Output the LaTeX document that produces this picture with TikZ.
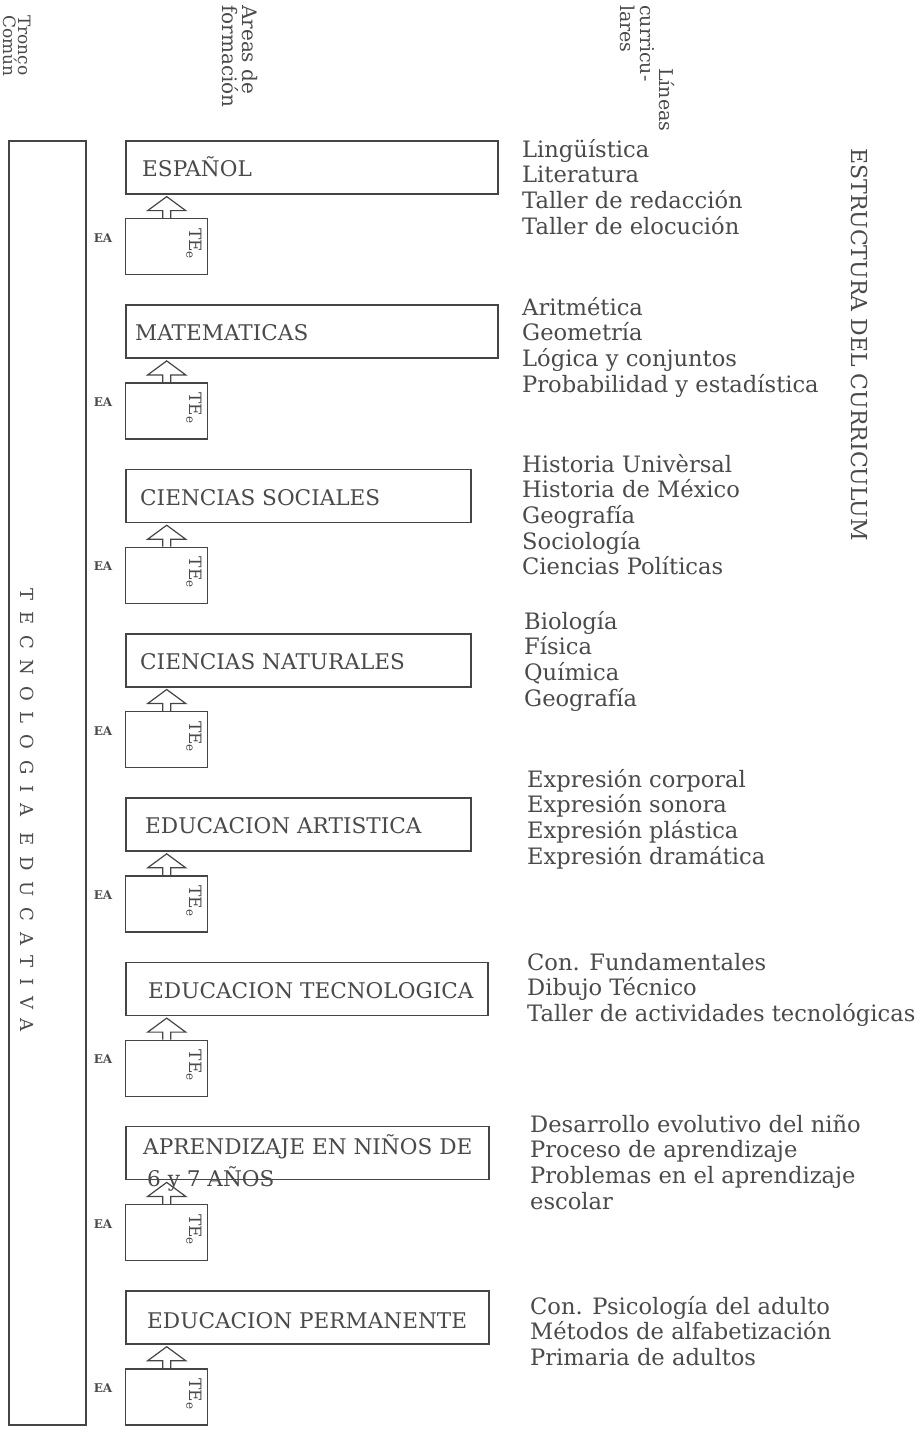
\documentclass[tikz,border=0pt]{standalone}
\usepackage{fontspec}
\setmainfont{DejaVu Serif}
\usetikzlibrary{calc}
\definecolor{ink}{HTML}{454545}
\definecolor{txt}{HTML}{4A4A4A}
\tikzset{
 areabox/.style={draw=ink, line width=1.6pt, minimum height=53pt, inner sep=0pt, anchor=north west},
 tebox/.style={draw=ink, line width=1.4pt, minimum width=82pt, minimum height=56pt, inner sep=0pt, anchor=north west},
 arealabel/.style={text=txt, font=\fontsize{21.6}{26}\selectfont, anchor=base west, inner sep=0pt},
 listline/.style={text=txt, font=\fontsize{22.6}{26}\selectfont, anchor=base west, inner sep=0pt},
 telabel/.style={text=txt, font=\fontsize{17}{20}\selectfont, rotate=-90, anchor=base west, inner sep=0pt},
 eamark/.style={text=txt, font=\bfseries\fontsize{12}{12}\selectfont, inner sep=0pt},
 hollowup/.style={draw=ink, line width=1.2pt, line join=miter},
 header/.style={text=txt, rotate=-90, anchor=north west, align=left, inner sep=0pt},
}
\newcommand\teArrow[2]{\draw[hollowup] let \p1=(#1.north), \p2=(#2.south) in (\x1-4pt,\y1) -- (\x1-4pt,\y2-16pt) -- (\x1-19pt,\y2-16pt) -- (\x1,\y2-2pt) -- (\x1+19pt,\y2-16pt) -- (\x1+4pt,\y2-16pt) -- (\x1+4pt,\y1);}
\begin{document}
\begin{tikzpicture}[x=1pt,y=-1pt]
\useasboundingbox (0,0) rectangle (919,1436);
\fill[white] (0,0) rectangle (919,1436);

% headers
\node[header, font=\fontsize{17}{15}\selectfont] (hdr1) at (31,15) {Tronco\\Común};
\node[header, font=\fontsize{20}{20}\selectfont] (hdr2) at (258,5) {Areas de\\formación};
\node[header, font=\fontsize{19}{20}\selectfont] (hdr3) at (675,68) {Líneas};
\node[header, font=\fontsize{19}{20}\selectfont] (hdr4) at (655,5) {curricu-\\lares};
\node[header, font=\fontsize{22}{24}\selectfont] (hdr5) at (868,148) {ESTRUCTURA DEL CURRICULUM};

% tronco comun
\node[draw=ink, line width=2pt, anchor=north west, minimum width=77pt, minimum height=1284pt, inner sep=0pt] (tronco) at (8,140) {};
\node[text=txt, rotate=-90, inner sep=0pt, font=\fontsize{18}{20}\selectfont\addfontfeature{LetterSpace=60}] (tronlabel) at (27,810) {TECNOLOGIA EDUCATIVA};

% areas
\node[areabox, minimum width=372pt] (a1) at (125,140) {};
\node[areabox, minimum width=372pt] (a2) at (125,304.3) {};
\node[areabox, minimum width=345pt] (a3) at (125,468.6) {};
\node[areabox, minimum width=345pt] (a4) at (125,632.9) {};
\node[areabox, minimum width=345pt] (a5) at (125,797.2) {};
\node[areabox, minimum width=362pt] (a6) at (125,961.5) {};
\node[areabox, minimum width=363pt] (a7) at (125,1125.8) {};
\node[areabox, minimum width=363pt] (a8) at (125,1290.1) {};

\node[arealabel] (l1) at (142,176.5) {ESPAÑOL};
\node[arealabel] (l2) at (135,340.8) {MATEMATICAS};
\node[arealabel] (l3) at (140,505.1) {CIENCIAS SOCIALES};
\node[arealabel] (l4) at (140,669.4) {CIENCIAS NATURALES};
\node[arealabel] (l5) at (145,833.7) {EDUCACION ARTISTICA};
\node[arealabel] (l6) at (148,998) {EDUCACION TECNOLOGICA};
\node[arealabel] (l7) at (143,1154.8) {APRENDIZAJE EN NIÑOS DE};
\node[arealabel] (l7b) at (147,1186) {6 y 7 AÑOS};
\node[arealabel] (l8) at (147,1328.6) {EDUCACION PERMANENTE};

% TE boxes, labels, marks, arrows
\foreach \T [count=\i] in {140,304.3,468.6,632.9,797.2,961.5,1125.8,1290.1}{
  \node[tebox] (t\i) at (125,\T+78) {};
  \node[telabel] (tl\i) at (189,\T+88) {TE\textsubscript{e}};
  \node[eamark] (ea\i) at (103,\T+98) {EA};
  \teArrow{t\i}{a\i}
}

% lineas curriculares
\foreach \t [count=\i] in {Lingüística, Literatura, Taller de redacción, Taller de elocución}
  \node[listline] (g1-\i) at (522,{157+25.7*(\i-1)}) {\t};
\foreach \t [count=\i] in {Aritmética, Geometría, Lógica y conjuntos, Probabilidad y estadística}
  \node[listline] (g2-\i) at (522,{315+25.7*(\i-1)}) {\t};
\foreach \t [count=\i] in {Historia Univèrsal, Historia de México, Geografía, Sociología, Ciencias Políticas}
  \node[listline] (g3-\i) at (522,{472+25.7*(\i-1)}) {\t};
\foreach \t [count=\i] in {Biología, Física, Química, Geografía}
  \node[listline] (g4-\i) at (524,{629+25.7*(\i-1)}) {\t};
\foreach \t [count=\i] in {Expresión corporal, Expresión sonora, Expresión plástica, Expresión dramática}
  \node[listline] (g5-\i) at (527,{787+25.7*(\i-1)}) {\t};
\foreach \t [count=\i] in {Con. Fundamentales, Dibujo Técnico, Taller de actividades tecnológicas}
  \node[listline] (g6-\i) at (527,{970+25.7*(\i-1)}) {\t};
\foreach \t [count=\i] in {Desarrollo evolutivo del niño, Proceso de aprendizaje, Problemas en el aprendizaje, escolar}
  \node[listline] (g7-\i) at (530,{1132+25.7*(\i-1)}) {\t};
\foreach \t [count=\i] in {Con. Psicología del adulto, Métodos de alfabetización, Primaria de adultos}
  \node[listline] (g8-\i) at (530,{1314+25.7*(\i-1)}) {\t};
\end{tikzpicture}
\end{document}
